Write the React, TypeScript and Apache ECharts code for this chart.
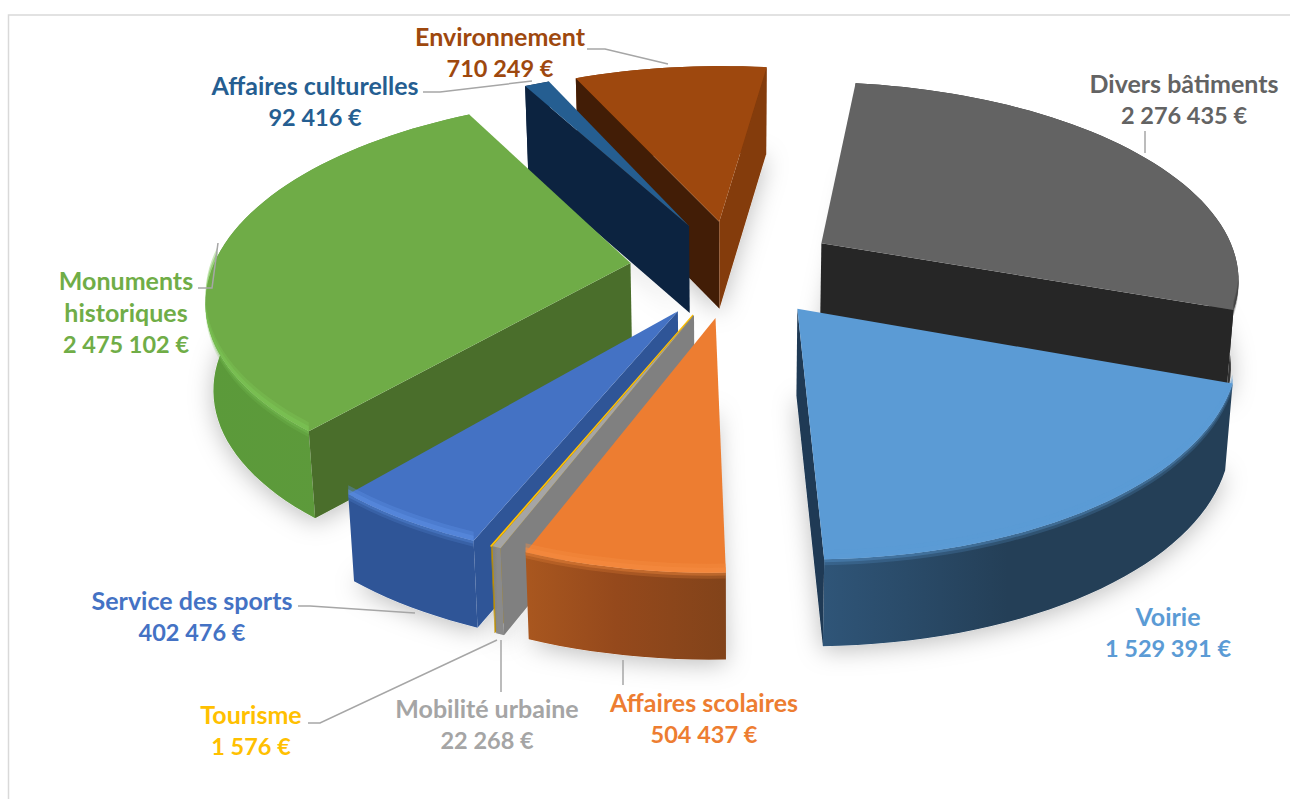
import React, { useEffect, useRef } from "react";
import * as echarts from "echarts";

const categories = ["Divers bâtiments", "Voirie", "Affaires scolaires", "Mobilité urbaine", "Tourisme", "Service des sports", "Monuments historiques", "Affaires culturelles", "Environnement"];
const values = [2276435, 1529391, 504437, 22268, 1576, 402476, 2475102, 92416, 710249];
const topColors = ["#636363", "#5B9BD5", "#ED7D31", "#A5A5A5", "#FFC000", "#4472C4", "#6FAC47", "#255E91", "#9E480E"];
const labelColors = ["#636363", "#5B9BD5", "#ED7D31", "#A5A5A5", "#FFC000", "#4472C4", "#70AD47", "#255E91", "#9E480E"];
const startWallColors = ["#262626", "#1F3A55", "#7F4218", "#808080", "#BF9000", "#2F5597", "#4A6E2B", "#0C2340", "#421D06"];
const endWallColors = ["#262626", "#1F3A55", "#7F4218", "#808080", "#BF9000", "#2F5597", "#4A6E2B", "#0C2340", "#843C0C"];
const outerWallStops = [
  ["#2A2A2A", "#333333", "#333333"],
  ["#2F5578", "#243F57", "#243F57"],
  ["#A9571F", "#95491C", "#82431A"],
  ["#808080", "#8A8A8A", "#8A8A8A"],
  ["#BF9000", "#BF9000", "#BF9000"],
  ["#2F5597", "#2F5597", "#2F5597"],
  ["#5B9A3A", "#5D9A3B", "#5F9A3C"],
  ["#0C2340", "#0C2340", "#0C2340"],
  ["#843C0C", "#843C0C", "#843C0C"],
];
const rimColors = ["#3A3A3A", "#5B9BD5", "#F58B40", "#B8B8B8", "#FFC000", "#5A8CE0", "#7CC455", "#255E91", "#9E480E"];
const paintOrder = [8, 0, 7, 6, 1, 5, 4, 3, 2];

const START_ANGLE = 7.5;
const EXPLODE = 0.25;
const PROJ = { cx: 734, cy: 268, A: 418, B: 194.8, p: 0.163, h: 87, bottomScale: 0.985 };

const total = values.reduce((a, b) => a + b, 0);
const spans = (() => {
  let cur = START_ANGLE;
  return values.map((v) => {
    const a = cur;
    cur += (v / total) * 360;
    return [a, cur];
  });
})();

const rad = (d: number) => (d * Math.PI) / 180;
function project(X: number, Y: number, bottom: boolean): number[] {
  const s = 1 / (1 + PROJ.p * Y);
  let dx = PROJ.A * X * s;
  let dy = -PROJ.B * Y * s;
  if (bottom) {
    dx *= PROJ.bottomScale;
    dy += PROJ.h;
  }
  return [PROJ.cx + dx, PROJ.cy + dy];
}
function signedArea(pts: number[][]) {
  let s = 0;
  pts.forEach((p, i) => {
    const q = pts[(i + 1) % pts.length];
    s += p[0] * q[1] - q[0] * p[1];
  });
  return s / 2;
}
function slicePoint(i: number, theta: number, r: number, bottom: boolean) {
  const mid = rad((spans[i][0] + spans[i][1]) / 2);
  const X = EXPLODE * Math.sin(mid) + r * Math.sin(rad(theta));
  const Y = EXPLODE * Math.cos(mid) + r * Math.cos(rad(theta));
  return project(X, Y, bottom);
}
function arc(i: number, a: number, b: number, r: number, bottom: boolean) {
  const n = Math.max(2, Math.ceil(Math.abs(b - a) / 2));
  const pts: number[][] = [];
  for (let k = 0; k <= n; k++) pts.push(slicePoint(i, a + ((b - a) * k) / n, r, bottom));
  return pts;
}
function apex(i: number, bottom: boolean) {
  return slicePoint(i, 0, 0, bottom);
}

function poly(points: number[][], fill: any, extra: any = {}) {
  return { type: "polygon", shape: { points }, style: { fill, ...extra }, silent: true };
}

function renderShadow(params: any) {
  const i = paintOrder[params.dataIndex];
  const [a, b] = spans[i];
  const pts = [apex(i, true), ...arc(i, a, b, 1, true)];
  return poly(pts, "#ffffff", {
    shadowBlur: 24,
    shadowColor: "rgba(0,0,0,0.26)",
    shadowOffsetX: 0,
    shadowOffsetY: 4,
  });
}

function renderSlice(params: any) {
  const i = paintOrder[params.dataIndex];
  const [a, b] = spans[i];
  const children: any[] = [];
  const thin = b - a < 0.5;
  const outer = [...arc(i, a, b, 1, false), ...arc(i, a, b, 1, true).reverse()];
  const [c0, c1, c2] = outerWallStops[i];
  children.push(
    poly(
      outer,
      new echarts.graphic.LinearGradient(0, 0, 1, 0, [
        { offset: 0, color: c0 },
        { offset: 0.45, color: c1 },
        { offset: 1, color: c2 },
      ])
    )
  );
  const ra = Math.max(a, 100);
  const rb = Math.min(b, 272);
  const edge = arc(i, ra, rb, 1, false);
  const shifted = (dy: number) => edge.map((p) => [p[0], p[1] + dy]).reverse();
  const hasRim = rb - ra > 3;
  if (hasRim) {
    children.push(poly([...edge, ...shifted(6)], rimColors[i], { opacity: 0.22 }));
    children.push(poly([...edge, ...shifted(3)], rimColors[i], { opacity: 0.35 }));
  }
  const startWall = [apex(i, false), slicePoint(i, a, 1, false), slicePoint(i, a, 1, true), apex(i, true)];
  const endWall = [apex(i, false), apex(i, true), slicePoint(i, b, 1, true), slicePoint(i, b, 1, false)];
  if (signedArea(startWall) < 0) children.push(poly(startWall, startWallColors[i]));
  if (signedArea(endWall) < 0) children.push(poly(endWall, endWallColors[i]));
  const top = [apex(i, false), ...arc(i, a, b, 1, false)];
  children.push(poly(top, topColors[i], thin ? { stroke: topColors[i], lineWidth: 1.2 } : {}));
  if (hasRim) {
    children.push(poly([...edge, ...shifted(-9)], rimColors[i], { opacity: 0.4 }));
    children.push(poly([...edge, ...shifted(-5)], rimColors[i], { opacity: 0.6 }));
  }
  return { type: "group", children };
}

const formatValue = (v: number) => String(v).replace(/\B(?=(\d{3})+$)/g, " ") + " €";
const labelCenters = [
  [1184, 99],
  [1168, 632],
  [704, 718],
  [487, 724],
  [251, 730],
  [192, 616],
  [126, 312],
  [315, 101],
  [500, 52],
];
const leaderLines = [
  [[1145, 131], [1145, 153]],
  [],
  [[623, 660], [623, 685]],
  [[501, 640], [501, 692]],
  [[308, 723], [320, 723], [497, 640]],
  [[298, 606], [310, 606], [415, 613]],
  [[198, 288], [212, 288], [218, 243]],
  [[423, 92], [440, 92], [532, 81]],
  [[587, 49], [605, 49], [668, 64]],
];

export default function App() {
  const ref = useRef<HTMLDivElement>(null);
  useEffect(() => {
    document.body.style.margin = "0";
    const chart = echarts.init(ref.current!, undefined, { renderer: "svg" });
    const graphics: any[] = [
      {
        type: "rect",
        z: 0,
        silent: true,
        shape: { x: 8.5, y: 15, width: 1400, height: 900 },
        style: { fill: "#ffffff", stroke: "#D9D9D9", lineWidth: 1.5 },
      },
    ];
    leaderLines.forEach((pts) => {
      if (pts.length)
        graphics.push({
          type: "polyline",
          z: 20,
          silent: true,
          shape: { points: pts },
          style: { stroke: "#A6A6A6", lineWidth: 1.5, fill: "none" },
        });
    });
    categories.forEach((name, i) => {
      const nameLines = name.replace("Monuments historiques", "Monuments\nhistoriques").split("\n");
      graphics.push({
        type: "text",
        z: 20,
        silent: true,
        x: labelCenters[i][0],
        y: labelCenters[i][1],
        style: {
          text: nameLines.map((l) => `{n|${l}}`).join("\n") + `\n{v|${formatValue(values[i])}}`,
          align: "center",
          verticalAlign: "middle",
          rich: {
            n: { font: "bold 25px Lato", fill: labelColors[i], lineHeight: 32, align: "center" },
            v: { font: "bold 23.5px Lato", fill: labelColors[i], lineHeight: 32, align: "center" },
          },
        },
      });
    });
    const data = paintOrder.map((i) => ({ name: categories[i], value: values[i] }));
    chart.setOption({
      animation: false,
      backgroundColor: "#ffffff",
      graphic: { elements: graphics },
      series: [
        { type: "custom", coordinateSystem: "none", renderItem: renderShadow, data, z: 5, silent: true },
        { type: "custom", coordinateSystem: "none", renderItem: renderSlice, data, z: 6, silent: true },
      ],
    });
    return () => chart.dispose();
  }, []);
  return <div ref={ref} style={{ position: "fixed", left: 0, top: 0, width: 1290, height: 799 }} />;
}
